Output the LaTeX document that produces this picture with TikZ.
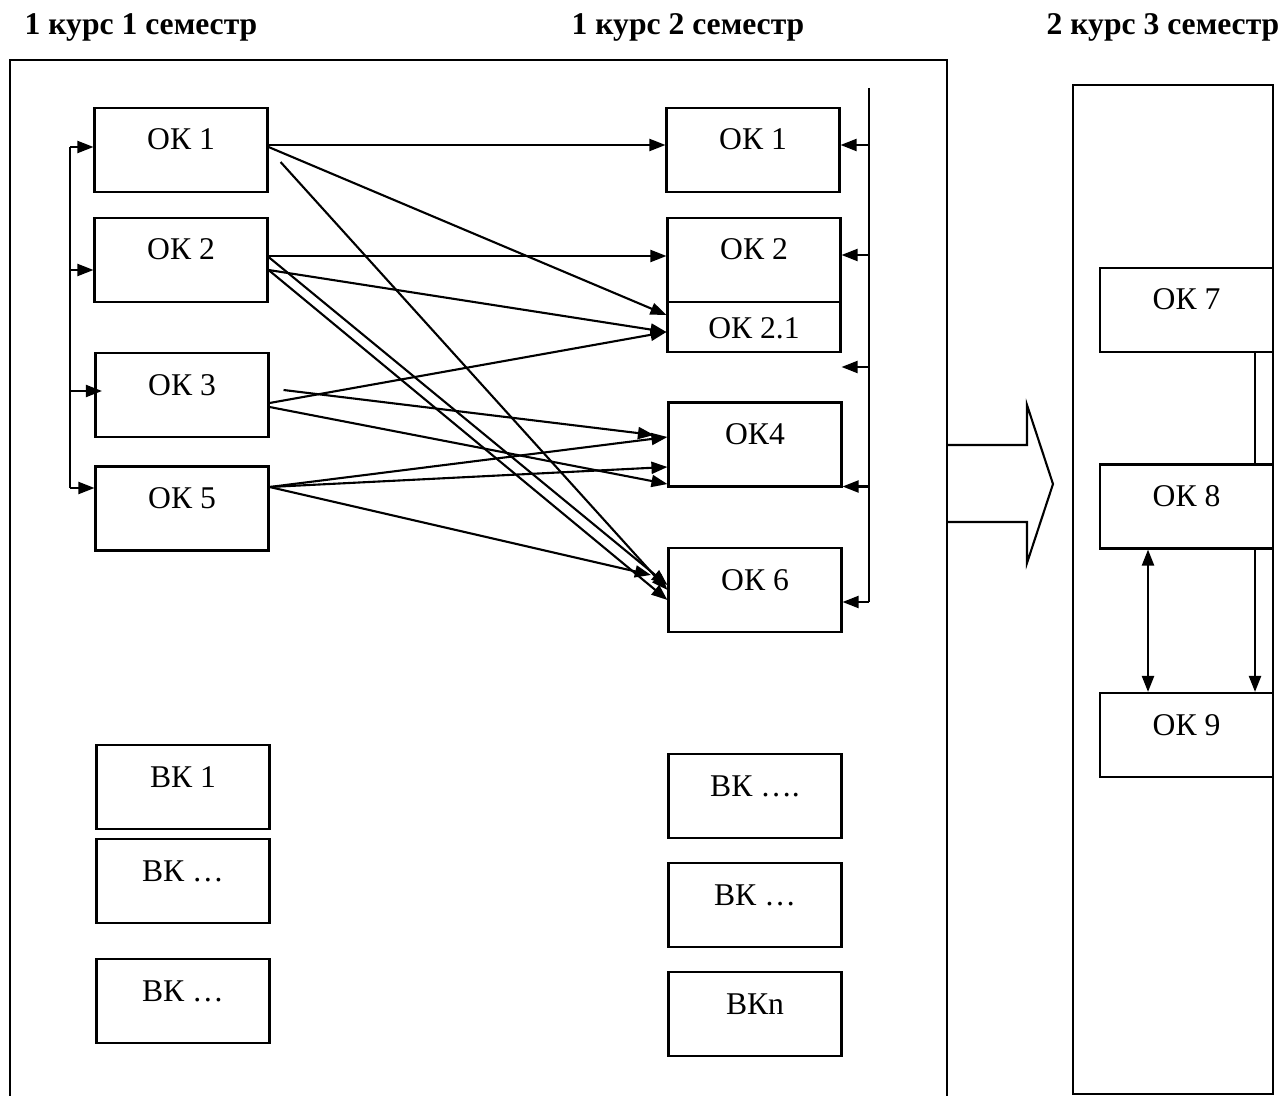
\documentclass[tikz,border=0pt]{standalone}
\usepackage{fontspec}
\setmainfont{Liberation Serif}
\usepackage{tikz}
\usetikzlibrary{arrows.meta}

\begin{document}
\begin{tikzpicture}[
        box/.style={draw, line width=1.2pt, minimum width=3.46cm, minimum height=1.68cm, inner sep=0pt, text height=0.45cm, text depth=0.45cm, font=\fontsize{18}{20}\selectfont},
        link/.style={-, line width=1.2pt},
        arr/.style={-{Triangle[length=0.32cm, width=0.24cm]}, line width=1.2pt},
        dbl/.style={{Triangle[length=0.32cm, width=0.24cm]}-{Triangle[length=0.32cm, width=0.24cm]}, line width=1.2pt},
        title/.style={font=\bfseries\fontsize{18}{20}\selectfont}
    ]
        \useasboundingbox (0,0) rectangle (25.7,-21.92);
        \node[title] (t1) at (2.82,-0.54) {1 курс 1 семестр};
        \node[title] (t2) at (13.76,-0.54) {1 курс 2 семестр};
        \node[title] (t3) at (23.26,-0.54) {2 курс 3 семестр};

        \draw[link] (0.2,-21.92) -- (0.2,-1.2) -- (18.94,-1.2) -- (18.94,-21.92);
        \draw[link] (21.46,-1.7) rectangle (25.46,-21.88);
        \draw[link] (18.94,-8.9) -- (20.54,-8.9) -- (20.54,-8.1) -- (21.06,-9.68)
            -- (20.54,-11.26) -- (20.54,-10.44) -- (18.94,-10.44);

        \node[box] (l1) at (3.62,-3.0) {ОК 1};
        \node[box] (l2) at (3.62,-5.2) {ОК 2};
        \node[box] (l3) at (3.64,-7.9) {ОК 3};
        \node[box] (l5) at (3.64,-10.17) {ОК 5};
        \node[box] (lb1) at (3.66,-15.74) {ВК 1};
        \node[box] (lb2) at (3.66,-17.62) {ВК …};
        \node[box] (lb3) at (3.66,-20.02) {ВК …};

        \node[box] (m1) at (15.06,-3.0) {ОК 1};
        \node[box] (m2) at (15.08,-5.2) {ОК 2};
        \node[box, minimum height=1.0cm, text depth=0cm] (m21) at (15.08,-6.54) {ОК 2.1};
        \node[box] (m4) at (15.10,-8.89) {ОК4};
        \node[box] (m6) at (15.10,-11.8) {ОК 6};
        \node[box] (mb1) at (15.1,-15.92) {ВК ….};
        \node[box] (mb2) at (15.1,-18.1) {ВК …};
        \node[box] (mb3) at (15.1,-20.28) {ВКn};

        \node[box] (r7) at (23.73,-6.2) {ОК 7};
        \node[box] (r8) at (23.73,-10.13) {ОК 8};
        \node[box] (r9) at (23.73,-14.7) {ОК 9};

        \coordinate (lj1) at (1.4,-2.94);
        \coordinate (lj2) at (1.4,-5.4);
        \coordinate (lj3) at (1.4,-7.82);
        \coordinate (lj5) at (1.4,-9.76);
        \draw[link] (lj1) -- (lj5);
        \draw[arr] (lj1) -- (lj1 -| l1.west);
        \draw[arr] (lj2) -- (lj2 -| l2.west);
        \draw[arr] (lj3) -- ([xshift=0.15cm]lj3 -| l3.west);
        \draw[arr] (lj5) -- (lj5 -| l5.west);

        \coordinate (rtop) at (17.38,-1.76);
        \coordinate (rj1) at (17.38,-2.9);
        \coordinate (rj2) at (17.38,-5.1);
        \coordinate (rj3) at (17.38,-7.34);
        \coordinate (rj4) at (17.38,-9.73);
        \coordinate (rj5) at (17.38,-12.04);
        \draw[link] (rtop) -- (rj5);
        \draw[arr] (rj1) -- (rj1 -| m1.east);
        \draw[arr] (rj2) -- (rj2 -| m2.east);
        \draw[arr] (rj3) -- (rj3 -| m21.east);
        \draw[arr] (rj4) -- (rj4 -| m4.east);
        \draw[arr] (rj5) -- (rj5 -| m6.east);

        \draw[arr] ([yshift=0.1cm]l1.east) -- ([yshift=0.1cm]m1.west);
        \draw[arr] ([yshift=0.06cm]l1.east) -- ([yshift=0.24cm]m21.west);
        \draw[arr] ([xshift=0.24cm, yshift=-0.24cm]l1.east) -- (m6.west);
        \draw[arr] ([yshift=0.08cm]l2.east) -- ([yshift=0.08cm]m2.west);
        \draw[arr] ([yshift=-0.2cm]l2.east) -- ([yshift=-0.1cm]m21.west);
        \draw[arr] ([yshift=0.06cm]l2.east) -- ([yshift=0.1cm]m6.west);
        \draw[arr] ([yshift=-0.2cm]l2.east) -- ([yshift=-0.2cm]m6.west);
        \draw[arr] ([yshift=-0.16cm]l3.east) -- ([yshift=-0.1cm]m21.west);
        \draw[arr] ([xshift=0.28cm, yshift=0.1cm]l3.east) -- ([xshift=-0.27cm, yshift=0.19cm]m4.west);
        \draw[arr] ([yshift=-0.24cm]l3.east) -- ([yshift=0.07cm]m4.south west);
        \draw[arr] ([yshift=0.43cm]l5.east) -- ([yshift=0.15cm]m4.west);
        \draw[arr] ([yshift=0.43cm]l5.east) -- ([yshift=-0.45cm]m4.west);
        \draw[arr] ([yshift=0.43cm]l5.east) -- ([xshift=-0.33cm, yshift=0.3cm]m6.west);

        \coordinate (rv) at (25.1,0);
        \coordinate (dv) at (22.96,0);
        \draw[link] (r7.south -| rv) -- (r8.north -| rv);
        \draw[arr] (r8.south -| rv) -- (r9.north -| rv);
        \draw[dbl] (r8.south -| dv) -- (r9.north -| dv);
    \end{tikzpicture}
\end{document}
